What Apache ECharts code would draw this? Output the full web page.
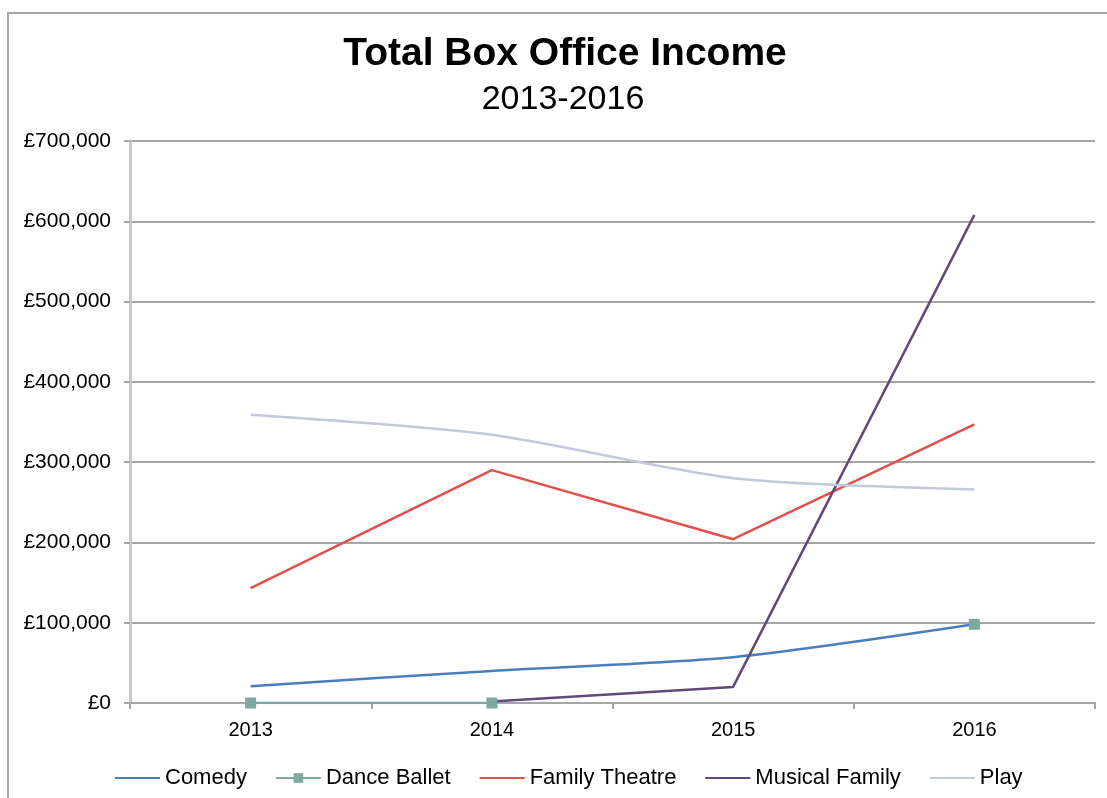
<!DOCTYPE html>
<html>
<head>
<meta charset="utf-8">
<script src="https://cdn.jsdelivr.net/npm/echarts@6/dist/echarts.min.js"></script>
<style>
  html, body { margin: 0; padding: 0; background: #fff; overflow: hidden; }
  #frame { position: absolute; left: 7px; top: 12px; width: 1130px; height: 820px;
           border-left: 2px solid #a6a6a6; border-top: 2px solid #a6a6a6; }
  #chart { position: absolute; left: 0; top: 0; width: 1107px; height: 798px; }
</style>
</head>
<body>
<div id="frame"></div>
<div id="chart"></div>
<script>
// values
var years = ['2013', '2014', '2015', '2016'];
var comedy = [21000, 40000, 57000, 98000];
var danceBallet = [0, 0, null, 98000];
var familyTheatre = [143000, 290000, 204000, 347000];
var musicalFamily = [null, 2000, 20000, 608000];
var play = [359000, 334000, 280000, 266000];
var yTicks = [0, 100000, 200000, 300000, 400000, 500000, 600000, 700000];

var font = "'Liberation Sans', Arial, sans-serif";

function pounds(v) {
  return '£' + v.toString().replace(/\B(?=(\d{3})+(?!\d))/g, ',');
}

var chart = echarts.init(document.getElementById('chart'));

function lineSeries(name, data, color, smooth) {
  return {
    name: name,
    type: 'line',
    data: data,
    smooth: smooth,
    symbol: 'none',
    connectNulls: false,
    lineStyle: { color: color, width: 2.5 },
    itemStyle: { color: color }
  };
}

// plain line in the legend, no dot
var noDot = { opacity: 0 };

chart.setOption({
  animation: false,
  title: [
    {
      text: 'Total Box Office Income',
      left: 565,
      top: 35,
      padding: 0,
      textAlign: 'center',
      textStyle: { fontFamily: font, fontSize: 39, fontWeight: 'bold', color: '#000' }
    },
    {
      text: '2013-2016',
      left: 563,
      top: 83,
      padding: 0,
      textAlign: 'center',
      textStyle: { fontFamily: font, fontSize: 34, fontWeight: 'normal', color: '#000' }
    }
  ],
  grid: { left: 130, right: 12, top: 141, bottom: 95 },
  legend: {
    left: 109,
    top: 762,
    itemWidth: 45,
    itemHeight: 12,
    itemGap: 28,
    textStyle: { fontFamily: font, fontSize: 22, color: '#000' },
    data: [
      { name: 'Comedy', itemStyle: noDot },
      { name: 'Dance Ballet' },
      { name: 'Family Theatre', itemStyle: noDot },
      { name: 'Musical Family', itemStyle: noDot },
      { name: 'Play', itemStyle: noDot }
    ]
  },
  xAxis: {
    type: 'category',
    data: years,
    boundaryGap: true,
    axisLine: { lineStyle: { color: '#a6a6a6', width: 2 } },
    axisTick: { show: true, length: 6, lineStyle: { color: '#a6a6a6', width: 2 } },
    axisLabel: { fontFamily: font, fontSize: 20, color: '#000', margin: 17 }
  },
  yAxis: {
    type: 'value',
    min: yTicks[0],
    max: yTicks[yTicks.length - 1],
    interval: yTicks[1] - yTicks[0],
    axisLine: { show: true, lineStyle: { color: '#c8c8c8', width: 3 } },
    axisTick: { show: true, length: 6, lineStyle: { color: '#a6a6a6', width: 2 } },
    axisLabel: { fontFamily: font, fontSize: 21, color: '#000', margin: 19, formatter: pounds },
    splitLine: { lineStyle: { color: '#a6a6a6', width: 2 } }
  },
  series: [
    lineSeries('Comedy', comedy, '#4a7ebb', 0.25),
    {
      name: 'Dance Ballet',
      type: 'line',
      data: danceBallet,
      symbol: 'rect',
      symbolSize: 11,
      showAllSymbol: true,
      connectNulls: false,
      lineStyle: { color: '#7fa9a0', width: 2.5 },
      itemStyle: { color: '#7fa9a0' }
    },
    lineSeries('Family Theatre', familyTheatre, '#e0504d', false),
    lineSeries('Musical Family', musicalFamily, '#604a7b', false),
    lineSeries('Play', play, '#c4c9da', 0.25)
  ]
});
</script>
</body>
</html>
